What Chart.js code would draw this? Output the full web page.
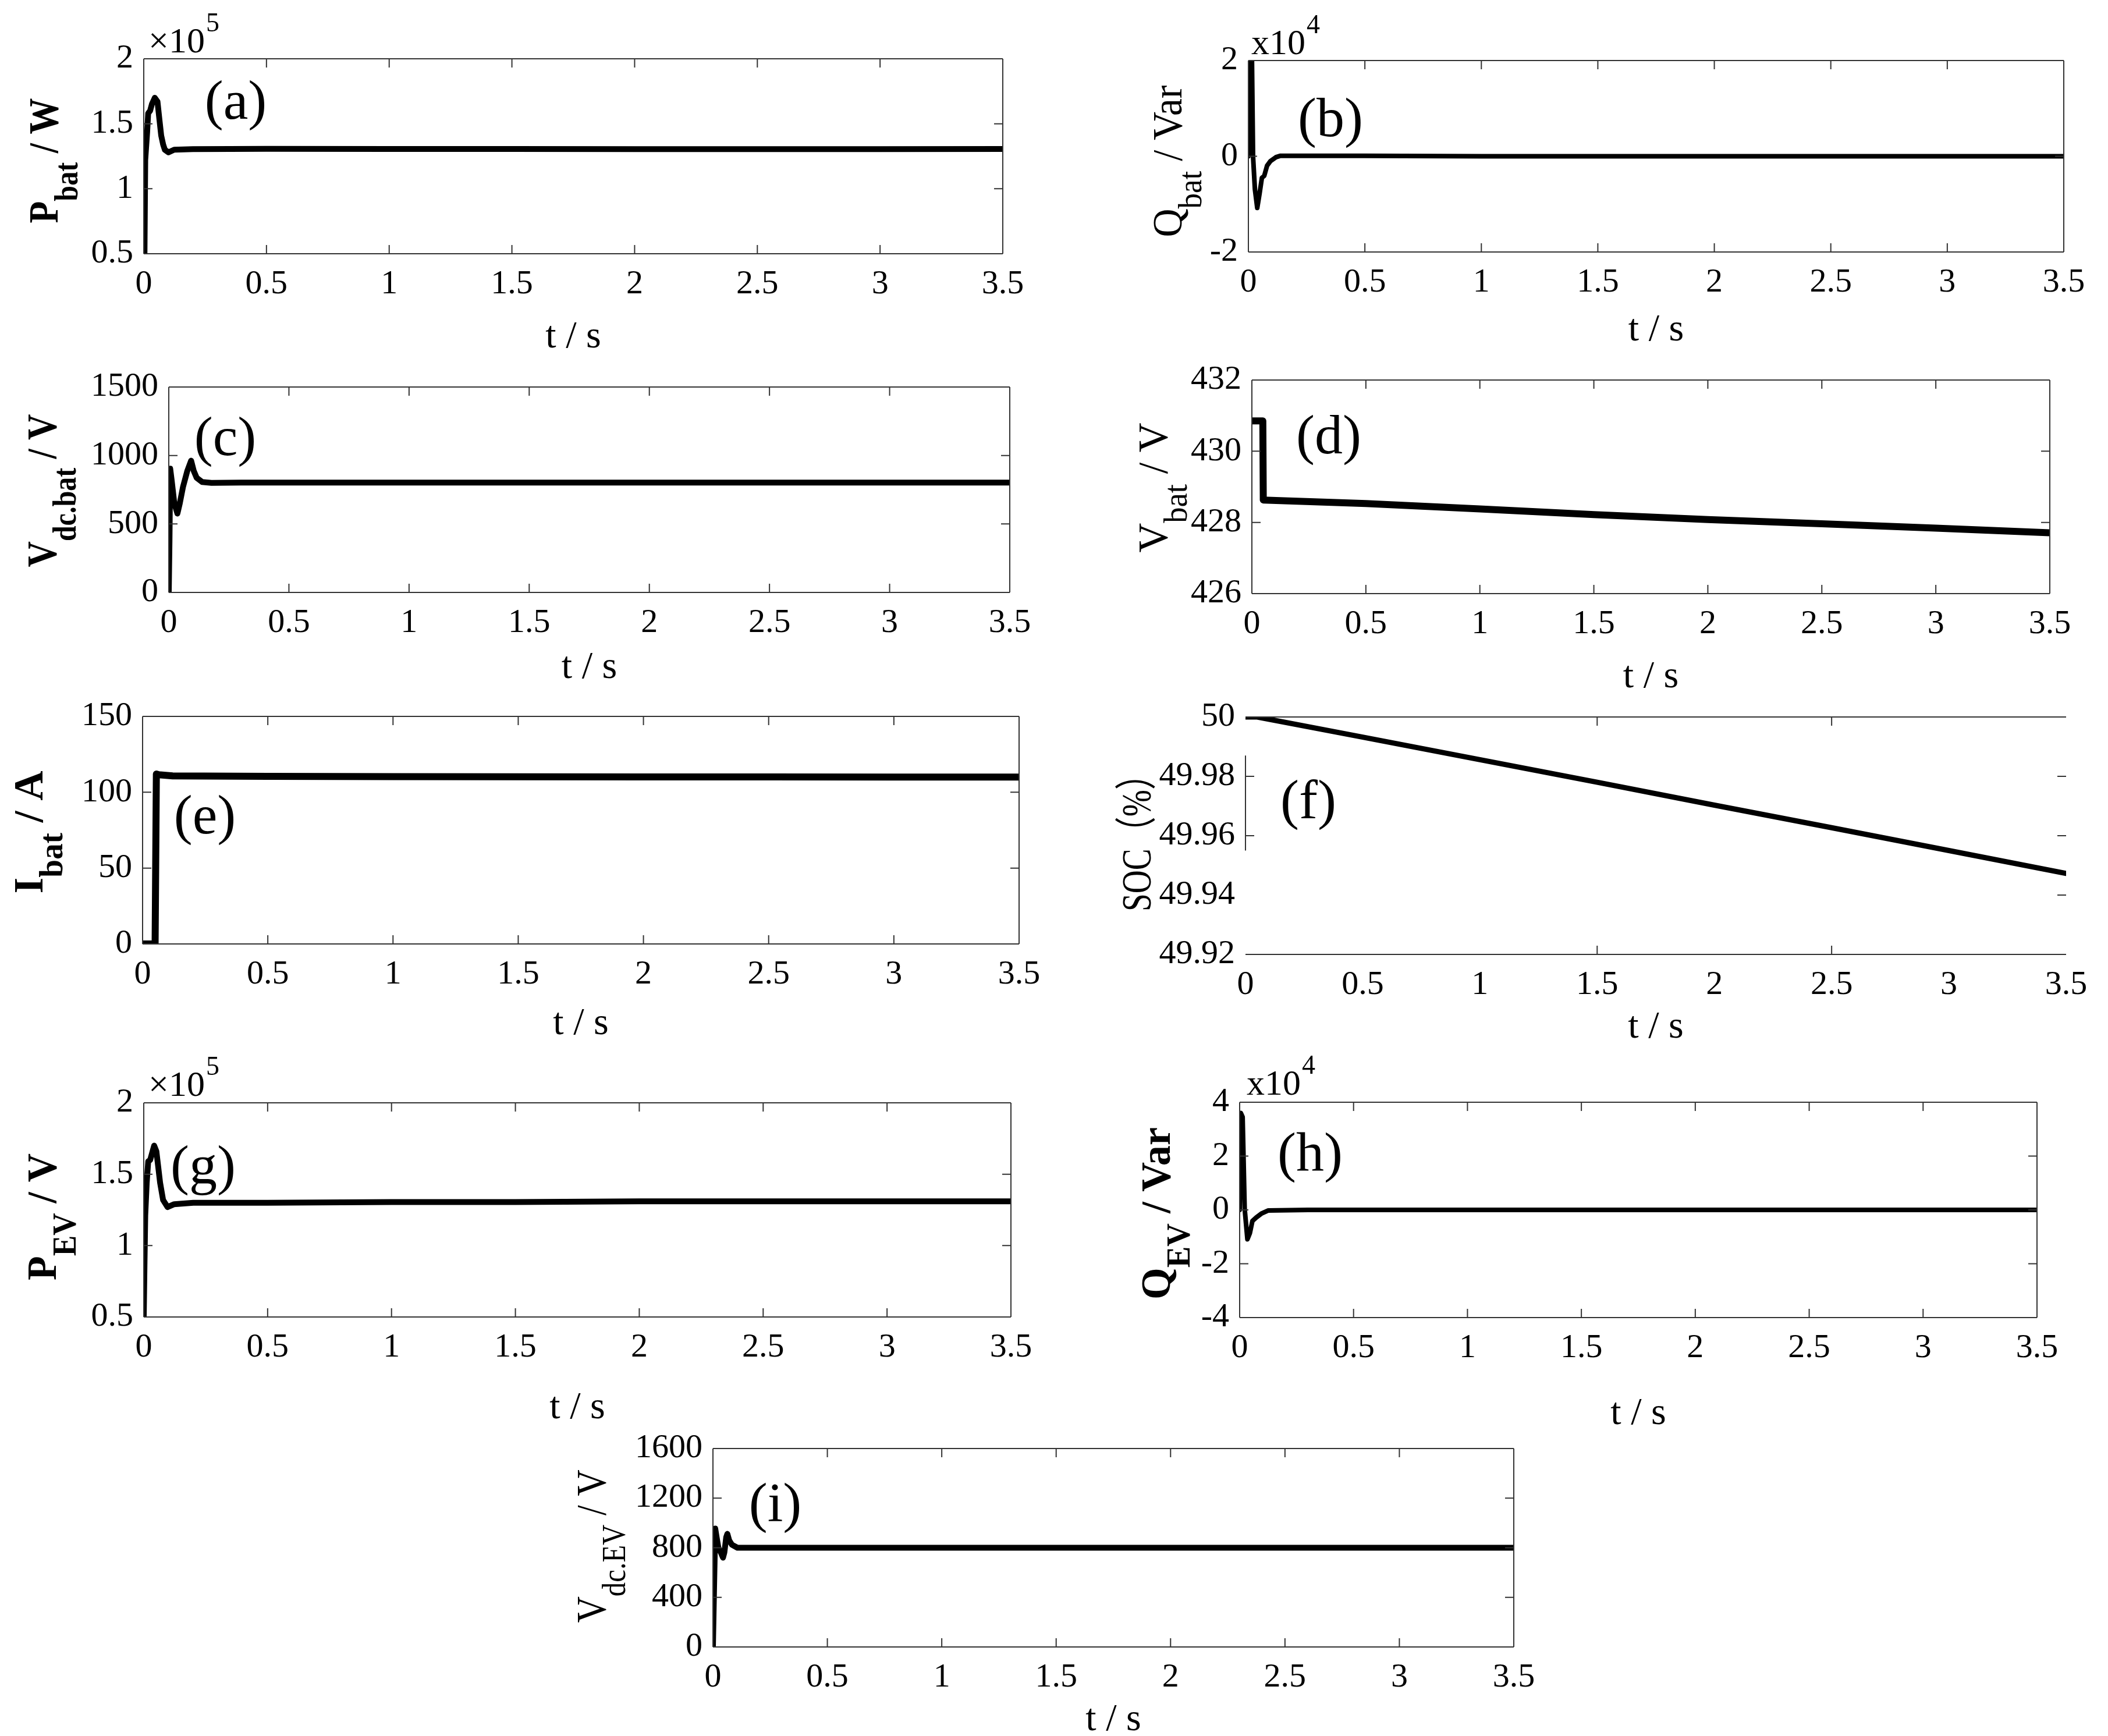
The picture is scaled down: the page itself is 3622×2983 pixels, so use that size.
<!DOCTYPE html>
<html><head><meta charset="utf-8">
<script src="https://cdn.jsdelivr.net/npm/chart.js@4.4.1/dist/chart.umd.min.js"></script>
<style>
html,body{margin:0;padding:0;background:#fff;}
body{width:3622px;height:2983px;position:relative;overflow:hidden;}
canvas{position:absolute;}
#pre{position:absolute;left:-9999px;top:0;font-family:"Liberation Serif";font-size:40px;}
#pre b{font-weight:bold;}
</style></head><body>
<div id="pre">0.5 t / s <b>Pbat / W</b> SOC（%）</div>
<script>
// ---------------- data ----------------
const tTicks = [0, 0.5, 1, 1.5, 2, 2.5, 3, 3.5];

// (a) P_bat, x10^5 W
const tA   = [0, 0.003, 0.006, 0.014, 0.018, 0.026, 0.033, 0.045, 0.056, 0.064, 0.071, 0.079, 0.086, 0.101, 0.124, 0.2, 0.5, 1, 1.5, 2, 2.5, 3, 3.5];
const pBat = [0.5, 0.5, 1.22, 1.44, 1.58, 1.60, 1.65, 1.70, 1.67, 1.53, 1.41, 1.34, 1.30, 1.28, 1.30, 1.305, 1.307, 1.306, 1.306, 1.305, 1.305, 1.305, 1.306];
const ticksA = [0.5, 1, 1.5, 2];

// (b) Q_bat, x10^4 Var
const tB   = [0, 0.004, 0.014, 0.02, 0.028, 0.038, 0.048, 0.058, 0.068, 0.08, 0.095, 0.118, 0.138, 0.3, 0.5, 1, 1.5, 2, 2.5, 3, 3.5];
const qBat = [0, 2.6, 2.6, 0, -0.69, -1.08, -0.78, -0.45, -0.41, -0.2, -0.1, -0.02, 0.01, 0.01, 0.01, 0, 0, 0, 0, 0, 0];
const ticksB = [-2, 0, 2];

// (c) V_dc.bat, V
const tC     = [0, 0.003, 0.006, 0.012, 0.023, 0.036, 0.046, 0.059, 0.077, 0.093, 0.104, 0.116, 0.139, 0.178, 0.3, 0.5, 1, 1.5, 2, 2.5, 3, 3.5];
const vdcBat = [0, 383, 904, 820, 652, 576, 652, 769, 887, 962, 887, 837, 806, 800, 802, 802, 802, 802, 802, 802, 802, 802];
const ticksC = [0, 500, 1000, 1500];

// (d) V_bat, V
const tD   = [0, 0.048, 0.05, 0.5, 1, 1.5, 2, 2.5, 3, 3.5];
const vBat = [430.85, 430.85, 428.63, 428.53, 428.38, 428.22, 428.08, 427.96, 427.84, 427.71];
const ticksD = [426, 428, 430, 432];

// (e) I_bat, A
const tE   = [0, 0.05, 0.055, 0.065, 0.12, 0.5, 1, 1.5, 2, 2.5, 3, 3.5];
const iBat = [0, 0, 112, 111.5, 110.8, 110.5, 110.3, 110.2, 110.1, 110.1, 110, 110];
const ticksE = [0, 50, 100, 150];

// (f) SOC, %
const tF  = [0, 0.05, 0.5, 1, 1.5, 2, 2.5, 3, 3.5];
const soc = [50, 50, 49.9932, 49.9856, 49.978, 49.9703, 49.9627, 49.955, 49.9473];
const ticksF = [49.92, 49.94, 49.96, 49.98, 50];

// (g) P_EV, x10^5
const tG  = [0, 0.003, 0.006, 0.012, 0.018, 0.026, 0.042, 0.051, 0.066, 0.078, 0.096, 0.123, 0.2, 0.5, 1, 1.5, 2, 2.5, 3, 3.5];
const pEV = [0.5, 0.87, 1.21, 1.44, 1.59, 1.6, 1.7, 1.66, 1.44, 1.32, 1.27, 1.29, 1.3, 1.3, 1.305, 1.305, 1.31, 1.31, 1.31, 1.31];
const ticksG = [0.5, 1, 1.5, 2];

// (h) Q_EV, x10^4 Var
const tH  = [0, 0.005, 0.013, 0.022, 0.034, 0.045, 0.056, 0.073, 0.095, 0.126, 0.3, 0.5, 1, 1.5, 2, 2.5, 3, 3.5];
const qEV = [0, 3.6, 3.45, 0.04, -1.09, -0.86, -0.41, -0.28, -0.14, -0.02, 0, 0, 0, 0, 0, 0, 0, 0];
const ticksH = [-4, -2, 0, 2, 4];

// (i) V_dc.EV, V
const tI    = [0, 0.005, 0.01, 0.016, 0.024, 0.034, 0.044, 0.05, 0.058, 0.063, 0.071, 0.083, 0.107, 0.2, 0.5, 1, 1.5, 2, 2.5, 3, 3.5];
const vdcEV = [0, 485, 955, 885, 798, 763, 720, 763, 885, 912, 859, 824, 800, 800, 800, 800, 800, 800, 800, 800, 800];
const ticksI = [0, 400, 800, 1200, 1600];

// ---------------- layout & style ----------------
const FAM = "'Liberation Serif', 'DejaVu Serif', serif";
const FAMCJK = "'Liberation Serif', 'Noto Sans CJK SC', serif";
const L = 280, T = 120, R = 80, B = 230;
const panels = [
  {t:tA, v:pBat, yt:ticksA, box:[247,101,1723,436], lw:10, title:[['P',0],['bat',1],[' / W',0]], bold:true, ytx:99, yty:276, ylen:215, xtOff:161, tag:'(a)', tagXY:[405,180], mult:['×10','5'], multXY:[255,90]},
  {t:tB, v:qBat, yt:ticksB, box:[2145,104,3546,433], lw:8, title:[['Q',0],['bat',1],[' / Var',0]], bold:false, ytx:2030, yty:277, ylen:261, xtOff:152, tag:'(b)', tagXY:[2286,210], mult:['x10','4'], multXY:[2150,93]},
  {t:tC, v:vdcBat, yt:ticksC, box:[290,665,1735,1018], lw:10, title:[['V',0],['dc.bat',1],[' / V',0]], bold:true, ytx:96, yty:843, ylen:263, xtOff:147, tag:'(c)', tagXY:[387,758]},
  {t:tD, v:vBat, yt:ticksD, box:[2151,653,3522,1020], lw:12, title:[['V',0],['bat',1],[' / V',0]], bold:false, ytx:2005, yty:838, ylen:223, xtOff:161, tag:'(d)', tagXY:[2283,755]},
  {t:tE, v:iBat, yt:ticksE, box:[245,1231,1751,1622], lw:12, title:[['I',0],['bat',1],[' / A',0]], bold:true, ytx:73, yty:1430, ylen:211, xtOff:155, tag:'(e)', tagXY:[352,1408]},
  {t:tF, v:soc, yt:ticksF, box:[2140,1232,3550,1640], lw:9, title:[['SOC（%）',0]], bold:false, cjk:true, ytx:1977, yty:1434, ylen:264, xtOff:143, tag:'(f)', tagXY:[2248,1382],
     sides:'tb', leftPart:[49.987,49.955], xSel:[1.5,2.5], ySelL:[49.98,49.96], ySelR:[49.94,49.96,49.98]},
  {t:tG, v:pEV, yt:ticksG, box:[247,1895,1737,2263], lw:10, title:[['P',0],['EV',1],[' / V',0]], bold:true, ytx:96, yty:2091, ylen:218, xtOff:174, tag:'(g)', tagXY:[349,2010], mult:['×10','5'], multXY:[255,1883]},
  {t:tH, v:qEV, yt:ticksH, box:[2130,1894,3500,2264], lw:8, title:[['Q',0],['EV',1],[' / Var',0]], bold:true, ytx:2010, yty:2085, ylen:296, xtOff:183, tag:'(h)', tagXY:[2251,1988], mult:['x10','4'], multXY:[2142,1881]},
  {t:tI, v:vdcEV, yt:ticksI, box:[1225,2489,2601,2830], lw:10, title:[['V',0],['dc.EV',1],[' / V',0]], bold:false, ytx:1040, yty:2657, ylen:263, xtOff:143, tag:'(i)', tagXY:[1332,2590]}
];

function makeDeco(p, ox, oy) {
  return {
    id: 'deco',
    afterDraw(chart) {
      const ctx = chart.ctx, a = chart.chartArea, xs = chart.scales.x, ys = chart.scales.y;
      ctx.save();
      ctx.strokeStyle = '#333'; ctx.lineWidth = 2;
      const sides = p.sides || 'tblr';
      ctx.beginPath();
      if (sides.includes('t')) { ctx.moveTo(a.left, a.top); ctx.lineTo(a.right, a.top); }
      if (sides.includes('b')) { ctx.moveTo(a.left, a.bottom); ctx.lineTo(a.right, a.bottom); }
      if (sides.includes('l')) { ctx.moveTo(a.left, a.top); ctx.lineTo(a.left, a.bottom); }
      if (sides.includes('r')) { ctx.moveTo(a.right, a.top); ctx.lineTo(a.right, a.bottom); }
      if (p.leftPart) {
        ctx.moveTo(a.left, ys.getPixelForValue(p.leftPart[0]));
        ctx.lineTo(a.left, ys.getPixelForValue(p.leftPart[1]));
      }
      const TL = 15;
      xs.ticks.forEach(tk => {
        const v = tk.value;
        if (v === xs.min || v === xs.max) return;
        if (p.xSel && !p.xSel.includes(v)) return;
        const px = xs.getPixelForValue(v);
        ctx.moveTo(px, a.bottom); ctx.lineTo(px, a.bottom - TL);
        ctx.moveTo(px, a.top); ctx.lineTo(px, a.top + TL);
      });
      ys.ticks.forEach(tk => {
        const v = tk.value;
        if (v === ys.min || v === ys.max) return;
        const py = ys.getPixelForValue(v);
        if (!p.ySelL || p.ySelL.includes(v)) { ctx.moveTo(a.left, py); ctx.lineTo(a.left + TL, py); }
        if (!p.ySelR || p.ySelR.includes(v)) { ctx.moveTo(a.right, py); ctx.lineTo(a.right - TL, py); }
      });
      ctx.stroke();

      // texts in page coordinates
      ctx.translate(-ox, -oy);
      ctx.fillStyle = '#000';
      ctx.textBaseline = 'alphabetic';

      // y title (rotated, with subscript), condensed to the measured length
      const F = 72, Fs = 56, subDy = 34;
      const w8 = p.bold ? 'bold' : 'normal';
      const fam = p.cjk ? FAMCJK : FAM;
      ctx.save();
      ctx.translate(p.ytx, p.yty);
      ctx.rotate(-Math.PI / 2);
      ctx.textAlign = 'left';
      let total = 0;
      const widths = p.title.map(([s, sub]) => {
        ctx.font = `${w8} ${sub ? Fs : F}px ${fam}`;
        const w = ctx.measureText(s).width; total += w; return w;
      });
      ctx.scale(p.ylen / total, 1);
      let x = -total / 2;
      p.title.forEach(([s, sub], i) => {
        ctx.font = `${w8} ${sub ? Fs : F}px ${fam}`;
        ctx.fillText(s, x, sub ? subDy : 0);
        x += widths[i];
      });
      ctx.restore();

      // x title
      ctx.textAlign = 'center';
      ctx.font = `normal 66px ${FAM}`;
      ctx.fillText('t / s', (p.box[0] + p.box[2]) / 2, p.box[3] + p.xtOff);

      // panel tag
      ctx.font = `normal 96px ${FAM}`;
      ctx.fillText(p.tag, p.tagXY[0], p.tagXY[1] + 0.255 * 96);

      // multiplier
      if (p.mult) {
        ctx.textAlign = 'left';
        ctx.font = `normal 62px ${FAM}`;
        ctx.fillText(p.mult[0], p.multXY[0], p.multXY[1]);
        const w = ctx.measureText(p.mult[0]).width;
        ctx.font = `normal 46px ${FAM}`;
        ctx.fillText(p.mult[1], p.multXY[0] + w + 2, p.multXY[1] - 36);
      }
      ctx.restore();
    }
  };
}

function build() {
  const tickFont = {family: FAM, size: 58};
  panels.forEach(p => {
    const [x0, y0, x1, y1] = p.box;
    const ox = x0 - L, oy = y0 - T, w = x1 - x0 + L + R, h = y1 - y0 + T + B;
    const cv = document.createElement('canvas');
    cv.width = w; cv.height = h;
    cv.style.left = ox + 'px'; cv.style.top = oy + 'px';
    cv.style.width = w + 'px'; cv.style.height = h + 'px';
    document.body.appendChild(cv);
    new Chart(cv, {
      type: 'line',
      data: {
        datasets: [{
          data: p.t.map((tv, i) => ({x: tv, y: p.v[i]})),
          borderColor: '#000', borderWidth: p.lw, pointRadius: 0, tension: 0, fill: false,
          borderJoinStyle: 'round', borderCapStyle: 'round'
        }]
      },
      options: {
        responsive: false, animation: false, devicePixelRatio: 1,
        layout: {padding: {top: T, right: R, bottom: 0, left: 0}},
        plugins: {legend: {display: false}, tooltip: {enabled: false}},
        scales: {
          x: {
            type: 'linear', min: tTicks[0], max: tTicks[tTicks.length - 1],
            afterBuildTicks: s => { s.ticks = tTicks.map(v => ({value: v})); },
            ticks: {font: tickFont, color: '#000', padding: 18, maxRotation: 0, autoSkip: false, callback: v => String(v)},
            grid: {display: false, drawTicks: false}, border: {display: false},
            afterFit: s => { s.height = B; }
          },
          y: {
            type: 'linear', min: p.yt[0], max: p.yt[p.yt.length - 1],
            afterBuildTicks: s => { s.ticks = p.yt.map(v => ({value: v})); },
            ticks: {font: tickFont, color: '#000', padding: 18, autoSkip: false, callback: v => String(v)},
            grid: {display: false, drawTicks: false}, border: {display: false},
            afterFit: s => { s.width = L; }
          }
        }
      },
      plugins: [makeDeco(p, ox, oy)]
    });
  });
}

Promise.all([
  document.fonts.load("58px 'Liberation Serif'"),
  document.fonts.load("bold 58px 'Liberation Serif'"),
  document.fonts.load("58px 'Noto Sans CJK SC'", "（%）")
]).catch(() => {}).then(() => document.fonts.ready).then(build, build);
</script>
</body></html>
